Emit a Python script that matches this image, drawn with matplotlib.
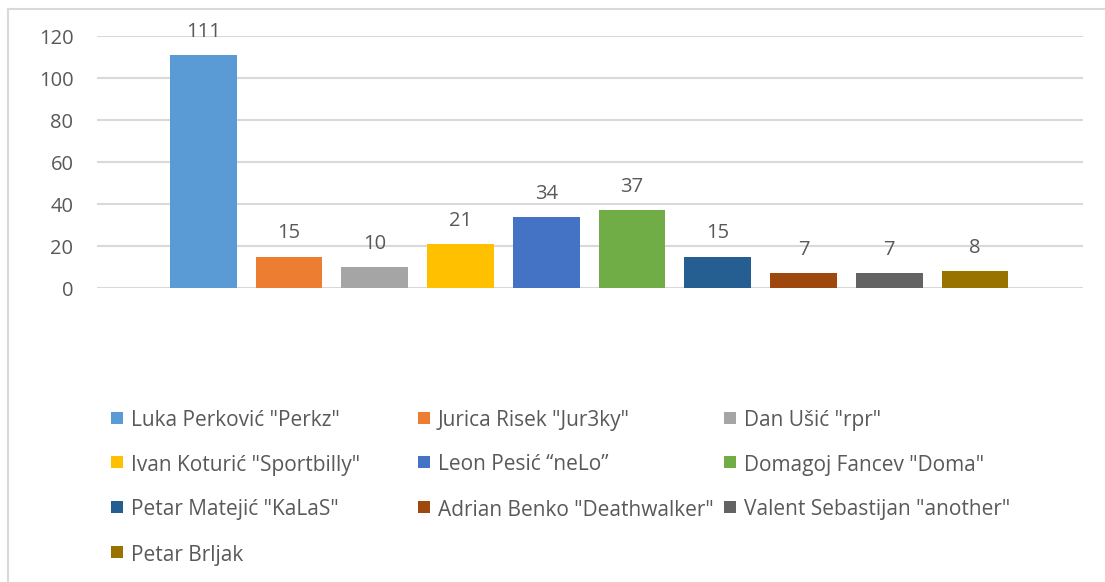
import matplotlib
matplotlib.use("Agg")
import matplotlib.pyplot as plt
from matplotlib.patches import Rectangle
from matplotlib.lines import Line2D

players = ['Luka Perković "Perkz"', 'Jurica Risek "Jur3ky"', 'Dan Ušić "rpr"',
           'Ivan Koturić "Sportbilly"', 'Leon Pesić “neLo”', 'Domagoj Fancev "Doma"',
           'Petar Matejić "KaLaS"', 'Adrian Benko "Deathwalker"', 'Valent Sebastijan "another"',
           'Petar Brljak']
values = [111, 15, 10, 21, 34, 37, 15, 7, 7, 8]
colors = ['#5B9BD5', '#ED7D31', '#A5A5A5', '#FFC000', '#4472C4', '#70AD47',
          '#255E91', '#9E480E', '#636363', '#997300']
yticks = [0, 20, 40, 60, 80, 100, 120]

plt.rcParams['font.family'] = ['Open Sans', 'DejaVu Sans']
W, H = 1105, 582
fig = plt.figure(figsize=(W / 100, H / 100), dpi=100)
ax = fig.add_axes([97 / W, (H - 288) / H, (1083 - 97) / W, (288 - 36) / H])

txt = '#595959'
for i, (v, c) in enumerate(zip(values, colors)):
    ax.bar(i, v, width=0.78, color=c, zorder=3)
    ax.annotate(str(v), xy=(i, v), xytext=(0, 13), textcoords='offset points',
                ha='center', va='baseline', fontsize=14.5, color=txt, annotation_clip=False)

ax.set_xlim(-1.24, len(values) - 1 + 1.26)
ax.set_ylim(0, 120)
ax.set_yticks(yticks)
ax.set_xticks([])
ax.yaxis.grid(True, color='#D9D9D9', linewidth=1.5, zorder=0)
ax.set_axisbelow(True)
for s in ax.spines.values():
    s.set_visible(False)
ax.tick_params(axis='y', length=0, pad=17, labelsize=14.5, labelcolor=txt)

# legend laid out like the original (row-wise, fixed column widths)
col_x = [111, 418, 724]
row_y = [417.5, 462, 507, 552]
for k, name in enumerate(players):
    r, cidx = divmod(k, 3)
    x0 = col_x[cidx]
    yc = row_y[r]
    fig.patches.append(Rectangle((x0 / W, (H - yc - 6) / H), 12 / W, 12 / H,
                                 transform=fig.transFigure, facecolor=colors[k],
                                 edgecolor='none'))
    fig.text((x0 + 20) / W, (H - yc - 8.5) / H, name, ha='left', va='baseline',
             fontsize=15, color=txt)

# chart border (top and left visible)
fig.add_artist(Line2D([7.5 / W, 7.5 / W], [0, (H - 9) / H], transform=fig.transFigure,
                      color='#D9D9D9', linewidth=1.5))
fig.add_artist(Line2D([7.5 / W, 1], [(H - 9) / H, (H - 9) / H], transform=fig.transFigure,
                      color='#D9D9D9', linewidth=1.5))

fig.savefig('out.png', dpi=100)
